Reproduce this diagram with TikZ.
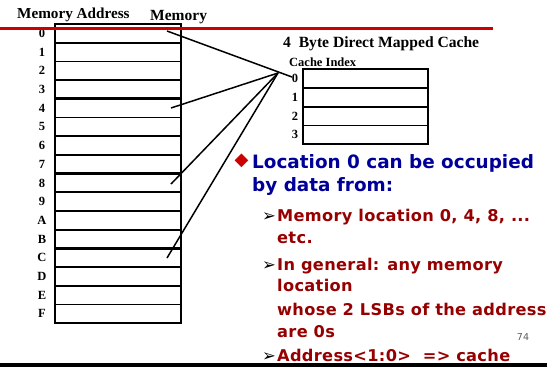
\documentclass[tikz,border=0pt]{standalone}
\usepackage{fontspec}
\setmainfont{Liberation Serif}
\newfontfamily\dv{DejaVu Sans}
\newfontfamily\dvs[LetterSpace=2.0]{DejaVu Sans}
\definecolor{slred}{RGB}{204,0,0}
\definecolor{slblue}{RGB}{0,0,153}
\definecolor{slmaroon}{RGB}{150,0,0}
\definecolor{slgray}{RGB}{90,90,90}
\begin{document}
\begin{tikzpicture}[x=1pt,y=-1pt,
  memrow/.style={draw, line width=1.8pt, minimum width=126pt, minimum height=18.7pt, inner sep=0pt, outer sep=0pt},
  cacherow/.style={draw, line width=1.8pt, minimum width=125pt, minimum height=18.7pt, inner sep=0pt, outer sep=0pt},
  addr/.style={font=\fontsize{12.5}{12.5}\selectfont\bfseries, inner sep=0pt},
  title/.style={anchor=base west, inner sep=0pt, font=\bfseries},
  conn/.style={line width=1.5pt},
  mainbul/.style={anchor=base west, inner sep=0pt, text=slblue, font=\dv\fontsize{18.4}{18.4}\selectfont\bfseries},
  subbul/.style={anchor=base west, inner sep=0pt, text=slmaroon, font=\dvs\fontsize{16.2}{16.2}\selectfont\bfseries},
  arrowmark/.style={anchor=base west, inner sep=0pt, font=\dv\fontsize{16.5}{16.5}\selectfont}]
\useasboundingbox (0,0) rectangle (547,367);
\clip (0,0) rectangle (547,367);
% memory
\foreach \i/\l in {0/0,1/1,2/2,3/3,4/4,5/5,6/6,7/7,8/8,9/9,10/A,11/B,12/C,13/D,14/E,15/F}{
  \node[memrow] (m\i) at (118,{24+18.7*(\i+0.5)}) {};
  \node[addr] (a\i) at (42,{24+18.7*(\i+0.5)}) {\l};
}
\foreach \i in {3,7,11}{
  \draw[line width=3pt] (m\i.south west) -- (m\i.south east);
}
% cache
\foreach \i in {0,1,2,3}{
  \node[cacherow] (c\i) at (365.5,{69.3+18.7*(\i+0.5)}) {};
  \node[addr] (ci\i) at (295,{69.3+18.7*(\i+0.5)}) {\i};
}
% titles
\node[title, font=\fontsize{15.2}{15.2}\selectfont\bfseries] (tma) at (17,18) {Memory Address};
\node[title, font=\fontsize{15.5}{15.5}\selectfont\bfseries] (tm) at (150,20) {Memory};
\node[title, font=\fontsize{15.6}{15.6}\selectfont\bfseries] (tc) at (283,47) {4\ \ Byte Direct Mapped Cache};
\node[title, font=\fontsize{12.5}{12.5}\selectfont\bfseries] (tci) at (289,66) {Cache Index};
% connectors
\coordinate (s0) at (167,31);
\coordinate (s4) at (171,108);
\coordinate (s8) at (171,184);
\coordinate (s12) at (167,258);
\coordinate (e0) at (292,77);
\coordinate (hub) at (278,73);
\draw[conn] (s0) -- (e0);
\draw[conn] (s4) -- (hub);
\draw[conn] (s8) -- (hub);
\draw[conn] (s12) -- (hub);
% red rule
\draw[slred, line width=3pt] (0,28.5) -- (493,28.5);
% bullets
\node[inner sep=0pt, text=slred, font=\dv\fontsize{18}{18}\selectfont] (d1) at (241.5,161) {◆};
\node[mainbul] (b1) at (252,168.3) {Location 0 can be occupied};
\node[mainbul] (b2) at (252,191.7) {by data from:};
\node[arrowmark] (r1) at (262,221.7) {➢};
\node[subbul] (s1a) at (277,221.7) {Memory location 0, 4, 8, ...};
\node[subbul] (s1b) at (277,243.3) {etc.};
\node[arrowmark] (r2) at (262,270) {➢};
\node[subbul] (s2a) at (277,270) {In general: any memory};
\node[subbul] (s2b) at (277,291.7) {location};
\node[subbul] (s2c) at (277,315) {whose 2 LSBs of the address};
\node[subbul] (s2d) at (277,337.3) {are 0s};
\node[arrowmark] (r3) at (262,361.7) {➢};
\node[subbul] (s3a) at (277,361.7) {Address<1:0>\ \ => cache};
\node[inner sep=0pt, text=slgray, font=\dv\fontsize{9.5}{9.5}\selectfont] (pg) at (523,337) {74};
% bottom bar
\fill[black] (0,363) rectangle (547,367);
\end{tikzpicture}
\end{document}
